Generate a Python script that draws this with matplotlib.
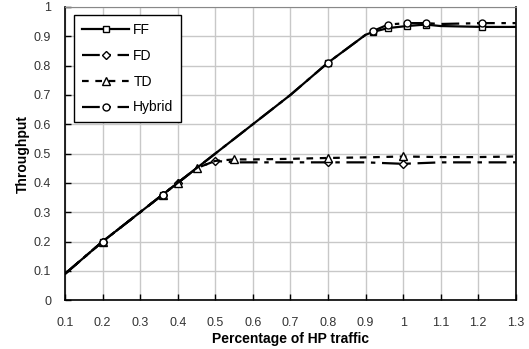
import numpy as np
import matplotlib
matplotlib.use("Agg")
import matplotlib.pyplot as plt

plt.rcParams['font.family'] = ['Liberation Sans', 'DejaVu Sans']

# data
ff_x = [0.1, 0.2, 0.3, 0.36, 0.4, 0.45, 0.5, 0.6, 0.7, 0.8, 0.9, 0.92, 0.96, 1.01, 1.06, 1.1, 1.21, 1.3]
ff_y = [0.09, 0.2, 0.3, 0.36, 0.4, 0.45, 0.5, 0.6, 0.7, 0.81, 0.905, 0.915, 0.928, 0.935, 0.94, 0.935, 0.932, 0.932]
ff_marks = [1, 3, 9, 11, 12, 13, 14, 16]

hy_x = [0.1, 0.2, 0.3, 0.36, 0.4, 0.45, 0.5, 0.6, 0.7, 0.8, 0.9, 0.92, 0.96, 1.01, 1.06, 1.1, 1.21, 1.3]
hy_y = [0.09, 0.2, 0.3, 0.36, 0.4, 0.45, 0.5, 0.6, 0.7, 0.81, 0.905, 0.918, 0.94, 0.945, 0.945, 0.942, 0.945, 0.945]
hy_marks = [1, 3, 9, 11, 12, 13, 14, 16]

fd_x = [0.1, 0.2, 0.3, 0.36, 0.4, 0.45, 0.5, 0.55, 0.6, 0.7, 0.8, 0.9, 1.0, 1.1, 1.2, 1.3]
fd_y = [0.09, 0.2, 0.3, 0.36, 0.4, 0.45, 0.475, 0.47, 0.47, 0.47, 0.47, 0.47, 0.465, 0.47, 0.47, 0.47]
fd_marks = [1, 3, 4, 6, 10, 12]

td_x = [0.1, 0.2, 0.3, 0.36, 0.4, 0.45, 0.5, 0.55, 0.6, 0.7, 0.8, 0.9, 1.0, 1.1, 1.2, 1.3]
td_y = [0.09, 0.2, 0.3, 0.36, 0.4, 0.45, 0.475, 0.48, 0.48, 0.482, 0.485, 0.487, 0.49, 0.488, 0.488, 0.49]
td_marks = [1, 3, 4, 5, 7, 10, 12]

x_ticks = [0.1, 0.2, 0.3, 0.4, 0.5, 0.6, 0.7, 0.8, 0.9, 1.0, 1.1, 1.2, 1.3]
y_ticks = [0, 0.1, 0.2, 0.3, 0.4, 0.5, 0.6, 0.7, 0.8, 0.9, 1.0]

fig = plt.figure(figsize=(5.29, 3.49), dpi=100)
ax = fig.add_axes([0.123, 0.14, 0.852, 0.84])

mk = dict(markerfacecolor='white', markeredgecolor='black', markeredgewidth=1, color='black')
ax.plot(ff_x, ff_y, '-', marker='s', markersize=5, lw=1.6, markevery=ff_marks, label='FF', **mk)
ax.plot(fd_x, fd_y, marker='D', markersize=4.5, lw=1.6, dashes=(8, 3, 2, 3),
        markevery=fd_marks, label='FD', **mk)
ax.plot(td_x, td_y, marker='^', markersize=5.5, lw=1.6, dashes=(3, 3),
        markevery=td_marks, label='TD', **mk)
ax.plot(hy_x, hy_y, marker='o', markersize=5, lw=1.6, dashes=(8, 3, 2, 3),
        markevery=hy_marks, label='Hybrid', **mk)

ax.set_xlim(0.1, 1.3)
ax.set_ylim(0, 1)
ax.set_xticks(x_ticks)
ax.set_yticks(y_ticks)
ax.set_xticklabels(['%g' % v for v in x_ticks], fontsize=9, color='#333333')
ax.set_yticklabels(['%g' % v for v in y_ticks], fontsize=9, color='#333333')
ax.tick_params(axis='x', direction='in', length=4, width=1, pad=12)
ax.tick_params(axis='y', direction='in', length=4, width=1, pad=10)
ax.grid(True, color='#c8c8c8', lw=1)
ax.set_axisbelow(True)
ax.spines['top'].set_color('#888888')
for s in ['left', 'bottom', 'right']:
    ax.spines[s].set_linewidth(1.2)

ax.set_xlabel('Percentage of HP traffic', fontsize=10, fontweight='bold', labelpad=2)
ax.set_ylabel('Throughput', fontsize=10, fontweight='bold', labelpad=3)

leg = ax.legend(loc='upper left', bbox_to_anchor=(0.005, 0.995), fontsize=10,
                fancybox=False, edgecolor='black', framealpha=1, handlelength=3.4,
                labelspacing=0.85, borderpad=0.55, handletextpad=0.3)
leg.get_frame().set_linewidth(1)

fig.savefig('out.png', dpi=100)
